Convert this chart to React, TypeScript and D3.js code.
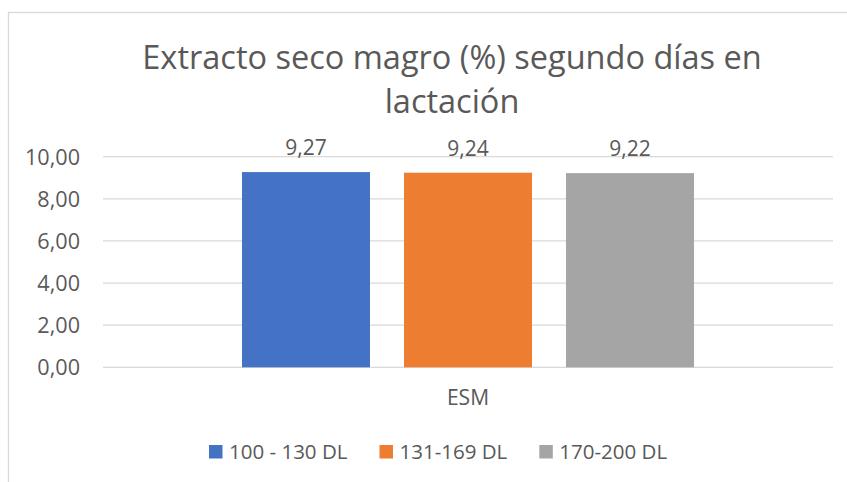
import React, { useEffect, useRef } from "react";
import * as d3 from "d3";

const categories = ["ESM"];
const seriesNames = ["100 - 130 DL", "131-169 DL", "170-200 DL"];
const seriesValues = [9.27, 9.24, 9.22];
const seriesColors = ["#4472C4", "#ED7D31", "#A5A5A5"];
const yTicks = [0, 2, 4, 6, 8, 10];
const titleLines = ["Extracto seco magro (%) segundo días en", "lactación"];

const App = () => {
  const svgRef = useRef<SVGSVGElement>(null);

  useEffect(() => {
    const width = 847;
    const height = 482;
    const plot = { left: 103, right: 833, top: 156.7, bottom: 367.3 };
    const font = "'Open Sans', sans-serif";
    const textColor = "#595959";
    const fmt = (v: number) => d3.format(".2f")(v).replace(".", ",");

    const svg = d3.select(svgRef.current);
    svg.selectAll("*").remove();
    svg.attr("width", width).attr("height", height).style("font-family", font);

    svg
      .append("rect")
      .attr("width", width)
      .attr("height", height)
      .attr("fill", "#fff");

    // chart frame (cut off at right and bottom)
    svg
      .append("rect")
      .attr("x", 8.5)
      .attr("y", 12.5)
      .attr("width", 900)
      .attr("height", 500)
      .attr("fill", "none")
      .attr("stroke", "#D9D9D9")
      .attr("stroke-width", 1.3);

    svg
      .append("g")
      .selectAll("text")
      .data(titleLines)
      .join("text")
      .attr("x", 452)
      .attr("y", (d, i) => 69 + i * 44)
      .attr("text-anchor", "middle")
      .attr("fill", textColor)
      .style("font-size", "32.5px")
      .text((d) => d);

    const y = d3.scaleLinear().domain([0, 10]).range([plot.bottom, plot.top]);
    const x0 = d3
      .scaleBand()
      .domain(categories)
      .range([plot.left, plot.right])
      .paddingInner(0)
      .paddingOuter(0.3075);
    const x1 = d3
      .scaleBand()
      .domain(seriesNames)
      .range([0, x0.bandwidth()])
      .paddingInner(0.21)
      .paddingOuter(0);

    const grid = svg.append("g");
    grid
      .selectAll("line")
      .data(yTicks)
      .join("line")
      .attr("x1", plot.left)
      .attr("x2", plot.right)
      .attr("y1", (d) => y(d))
      .attr("y2", (d) => y(d))
      .attr("stroke", "#D9D9D9")
      .attr("stroke-width", 1.3);

    grid
      .selectAll("text")
      .data(yTicks)
      .join("text")
      .attr("x", 80)
      .attr("y", (d) => y(d) + 7.8)
      .attr("text-anchor", "end")
      .attr("fill", textColor)
      .style("font-size", "21.6px")
      .text((d) => fmt(d));

    const bars = svg
      .append("g")
      .selectAll("g")
      .data(categories)
      .join("g")
      .attr("transform", (d) => `translate(${x0(d)},0)`);

    const rows = seriesNames.map((name, i) => ({
      name,
      value: seriesValues[i],
      color: seriesColors[i],
    }));

    bars
      .selectAll("rect")
      .data(rows)
      .join("rect")
      .attr("x", (d) => x1(d.name)!)
      .attr("y", (d) => y(d.value))
      .attr("width", x1.bandwidth())
      .attr("height", (d) => y(0) - y(d.value))
      .attr("fill", (d) => d.color);

    bars
      .selectAll("text.val")
      .data(rows)
      .join("text")
      .attr("class", "val")
      .attr("x", (d) => x1(d.name)! + x1.bandwidth() / 2)
      .attr("y", (d) => y(d.value) - 17)
      .attr("text-anchor", "middle")
      .attr("fill", textColor)
      .style("font-size", "21px")
      .text((d) => fmt(d.value));

    svg
      .append("g")
      .selectAll("text")
      .data(categories)
      .join("text")
      .attr("x", (d) => x0(d)! + x0.bandwidth() / 2)
      .attr("y", 405)
      .attr("text-anchor", "middle")
      .attr("fill", textColor)
      .style("font-size", "21px")
      .text((d) => d);

    // legend
    const legend = svg.append("g");
    let lx = 209;
    rows.forEach((d) => {
      const item = legend.append("g").attr("transform", `translate(${lx},0)`);
      item
        .append("rect")
        .attr("x", 0)
        .attr("y", 445)
        .attr("width", 13.5)
        .attr("height", 13.5)
        .attr("fill", d.color);
      const t = item
        .append("text")
        .attr("x", 20)
        .attr("y", 458.5)
        .attr("fill", textColor)
        .style("font-size", "20.5px")
        .text(d.name);
      const w = (t.node() as SVGTextElement).getComputedTextLength();
      lx += 20 + w + 32;
    });
  }, []);

  return (
    <svg
      ref={svgRef}
      style={{ position: "absolute", left: 0, top: 0, display: "block" }}
    ></svg>
  );
};

export default App;
